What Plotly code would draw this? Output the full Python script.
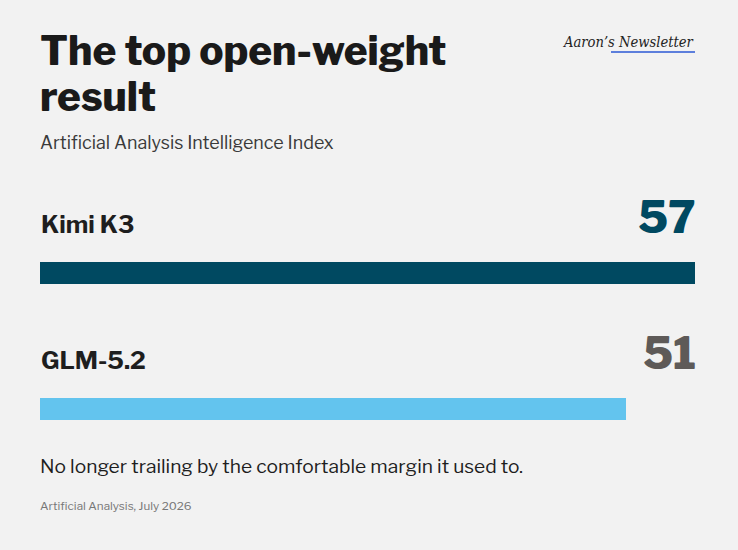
import plotly.graph_objects as go

models = ["Kimi K3", "GLM-5.2"]
scores = [57, 51]
bar_colors = ["#004961", "#63c4ee"]
value_colors = ["#004961", "#5e5a58"]

title_lines = ["The top open-weight", "result"]
subtitle = "Artificial Analysis Intelligence Index"
note = "No longer trailing by the comfortable margin it used to."
source = "Artificial Analysis, July 2026"
logo = "Aaron\u2019s Newsletter"

FONT = "Libre Franklin, Inter, Roboto, sans-serif"
BG = "#f2f2f2"

W, H = 738, 550
L, R = 40, 695
top, bottom = 205, 477


def px(xp):
    return (xp - L) / (R - L)


def py(yp):
    return (bottom - yp) / (bottom - top)


fig = go.Figure()
fig.add_trace(go.Bar(
    x=scores, y=models, orientation="h",
    marker=dict(color=bar_colors, line=dict(width=0)),
    width=0.162, hoverinfo="skip", showlegend=False,
))

fig.update_layout(
    width=W, height=H,
    paper_bgcolor=BG, plot_bgcolor=BG,
    margin=dict(l=L, r=W - R, t=top, b=H - bottom, pad=0),
    bargap=0,
    xaxis=dict(range=[0, max(scores)], visible=False, fixedrange=True),
    yaxis=dict(categoryorder="array", categoryarray=models,
               range=[1.5, -0.5], visible=False, fixedrange=True),
    font=dict(family=FONT, color="#1e1e1e"),
    showlegend=False,
)

ann = []
for i, (m, s) in enumerate(zip(models, scores)):
    ann.append(dict(x=0, y=m, xref="x", yref="y", text=m, showarrow=False,
                    xanchor="left", yanchor="middle", yshift=49, xshift=-1,
                    font=dict(size=24.5, color="#1e1e1e", family=FONT, weight=700)))
    ann.append(dict(x=1, y=m, xref="paper", yref="y", text=str(s), showarrow=False,
                    xanchor="right", yanchor="middle", yshift=56, xshift=3,
                    font=dict(size=44, color=value_colors[i], family=FONT, weight=800)))


def txt(x, y, text, size, color, family=FONT, weight=400, anchor="left"):
    return dict(x=px(x), y=py(y), xref="paper", yref="paper", text=text,
                showarrow=False, xanchor=anchor, yanchor="middle",
                font=dict(size=size, color=color, family=family, weight=weight))


ann += [
    txt(38, 50, title_lines[0], 40.5, "#1a1a1a", weight=800),
    txt(38, 96, title_lines[1], 40.5, "#1a1a1a", weight=800),
    txt(38, 143, subtitle, 17.9, "#3a3a3a"),
    txt(38, 466, note, 19.2, "#1e1e1e"),
    txt(38, 506, source, 11.7, "#777777"),
    txt(696, 42, "<i>" + logo + "</i>", 14.6, "#222222",
        family="DejaVu Serif Condensed, Liberation Serif, serif", anchor="right"),
]
fig.update_layout(annotations=ann)
fig.add_shape(type="line", xref="paper", yref="paper", layer="above",
              x0=px(611), x1=px(695), y0=py(52), y1=py(52),
              line=dict(color="#2b58d4", width=1.6))

fig.write_html("out.html", config={"displayModeBar": False},
               post_script="document.body.style.margin='0';")
